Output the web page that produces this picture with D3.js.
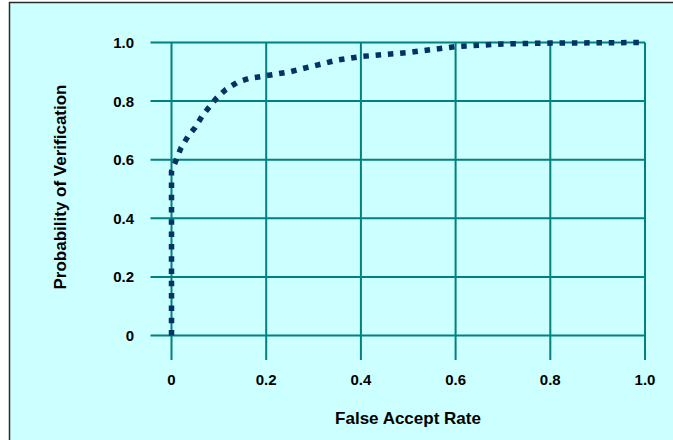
<!DOCTYPE html>
<html>
<head>
<meta charset="utf-8">
<script src="https://cdn.jsdelivr.net/npm/d3@7"></script>
<style>
  html, body { margin: 0; padding: 0; background: #ffffff; }
  svg { display: block; }
  text { font-family: "Liberation Sans", Arial, Helvetica, sans-serif; font-weight: bold; fill: #000; }
</style>
</head>
<body>
<svg id="chart" width="673" height="440"></svg>
<script>
// ---- data ----
const falseAcceptRate = [0, 0, 0.01, 0.02, 0.035, 0.05, 0.065, 0.08, 0.095, 0.115, 0.14, 0.165, 0.19, 0.25, 0.3, 0.35, 0.4, 0.5, 0.6, 0.7, 0.8, 1.0];
const probVerification = [0.0, 0.56, 0.6, 0.64, 0.68, 0.71, 0.75, 0.78, 0.81, 0.84, 0.865, 0.878, 0.884, 0.9, 0.92, 0.94, 0.952, 0.966, 0.986, 0.995, 0.998, 1.0];
const xTicks = [0, 0.2, 0.4, 0.6, 0.8, 1.0];
const xTickLabels = ["0", "0.2", "0.4", "0.6", "0.8", "1.0"];
const yTicks = [0, 0.2, 0.4, 0.6, 0.8, 1.0];
const yTickLabels = ["0", "0.2", "0.4", "0.6", "0.8", "1.0"];
const xTitle = "False Accept Rate";
const yTitle = "Probability of Verification";

const svg = d3.select("#chart");

// frame / background
svg.append("rect")
  .attr("x", 9.5).attr("y", 2.5)
  .attr("width", 680).attr("height", 450)
  .attr("fill", "#ccffff")
  .attr("stroke", "#2a2a2a").attr("stroke-width", 1.5);

const x = d3.scaleLinear().domain([0, 1]).range([171.5, 645]);
const y = d3.scaleLinear().domain([0, 1]).range([335.5, 42.5]);

const gridColor = "#008080";

// horizontal grid lines (extend left as tick marks)
svg.append("g").selectAll("line").data(yTicks).join("line")
  .attr("x1", 150.5).attr("x2", x(1))
  .attr("y1", d => y(d)).attr("y2", d => y(d))
  .attr("stroke", gridColor).attr("stroke-width", 2);

// vertical grid lines (extend below as tick marks)
svg.append("g").selectAll("line").data(xTicks).join("line")
  .attr("x1", d => x(d)).attr("x2", d => x(d))
  .attr("y1", y(1)).attr("y2", 360)
  .attr("stroke", gridColor).attr("stroke-width", 2);

// y tick labels
svg.append("g").selectAll("text").data(yTicks).join("text")
  .attr("x", 134).attr("y", d => y(d))
  .attr("dy", "0.36em")
  .attr("text-anchor", "end")
  .attr("font-size", 15)
  .text((d, i) => yTickLabels[i]);

// x tick labels
svg.append("g").selectAll("text").data(xTicks).join("text")
  .attr("x", d => x(d)).attr("y", 385)
  .attr("text-anchor", "middle")
  .attr("font-size", 15)
  .text((d, i) => xTickLabels[i]);

// axis titles
svg.append("text")
  .attr("x", 408).attr("y", 424)
  .attr("text-anchor", "middle")
  .attr("font-size", 17)
  .text(xTitle);

svg.append("text")
  .attr("transform", "translate(66,187) rotate(-90)")
  .attr("text-anchor", "middle")
  .attr("font-size", 17)
  .text(yTitle);

// curve
const pts = falseAcceptRate.map((v, i) => [v, probVerification[i]]);
const line = d3.line()
  .x(d => x(d[0])).y(d => y(d[1]))
  .curve(d3.curveMonotoneX);

svg.append("path")
  .datum(pts)
  .attr("d", d3.line().x(d => x(d[0])).y(d => y(d[1])).curve(d3.curveLinear))
  .attr("fill", "none")
  .attr("stroke", "#003366")
  .attr("stroke-width", 5.5)
  .attr("stroke-dasharray", "5.5,6.8")
  .attr("stroke-linecap", "butt");
</script>
</body>
</html>
